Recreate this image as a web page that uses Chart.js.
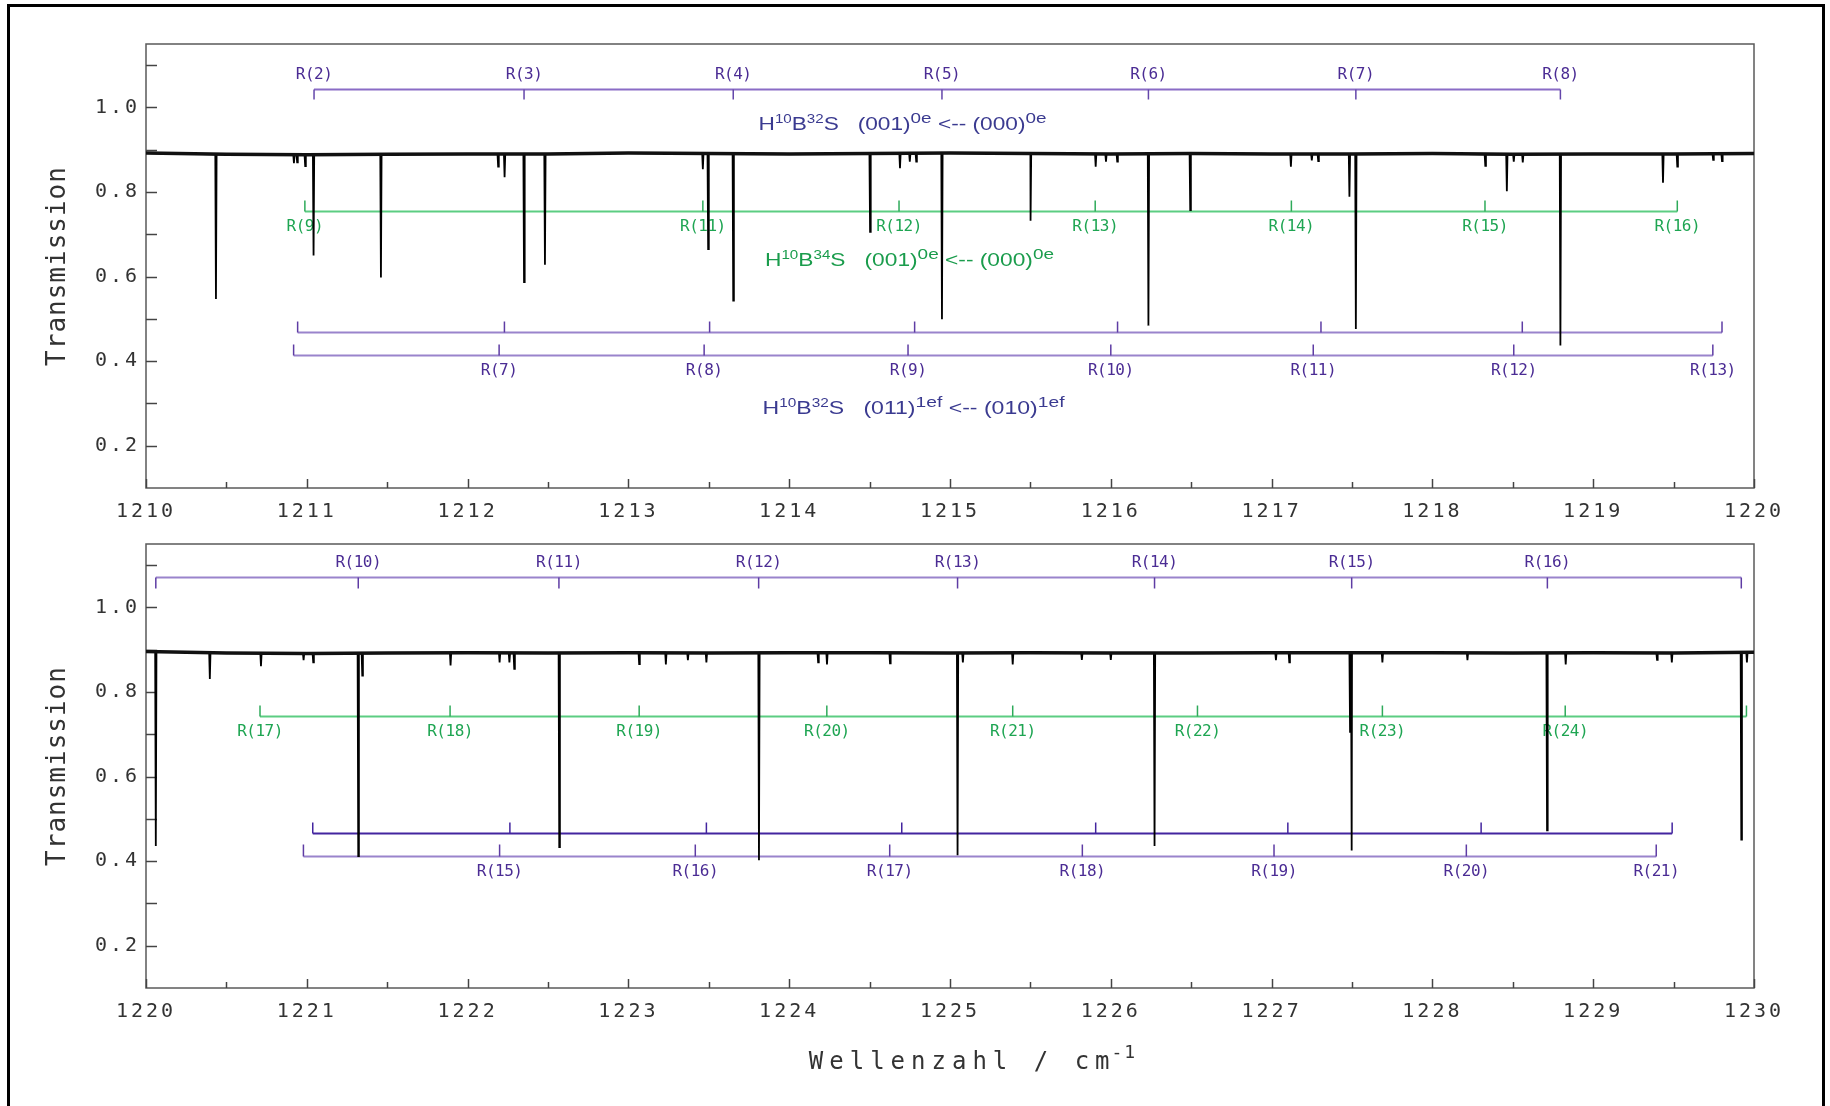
<!DOCTYPE html>
<html>
<head>
<meta charset="utf-8">
<script src="https://cdn.jsdelivr.net/npm/chart.js@4.4.0/dist/chart.umd.min.js"></script>
<style>
html, body { margin: 0; padding: 0; background: #fff; }
body { width: 1830px; height: 1106px; position: relative; overflow: hidden; }
#rahmen { position: absolute; left: 7px; top: 4px; width: 1812px; height: 1200px; border: 3px solid #000; }
canvas { position: absolute; left: 0; }
#spek1 { top: 0; }
#spek2 { top: 525px; }
</style>
</head>
<body>
<div id="rahmen"></div>
<canvas id="spek1" width="1830" height="525"></canvas>
<canvas id="spek2" width="1830" height="581"></canvas>
<script>
// ---- Daten: Basislinie (alle 0.5 cm-1) und Absorptionslinien (Position, Minimum) ----
const basisX1 = [1210, 1210.5, 1211, 1211.5, 1212, 1212.5, 1213, 1213.5, 1214, 1214.5, 1215,
                 1215.5, 1216, 1216.5, 1217, 1217.5, 1218, 1218.5, 1219, 1219.5, 1220];
const basisY1 = [0.892, 0.889, 0.888, 0.889, 0.890, 0.890, 0.892, 0.891, 0.890, 0.891, 0.892,
                 0.891, 0.890, 0.891, 0.890, 0.890, 0.891, 0.889, 0.890, 0.890, 0.891];
const linienX1 = [1210.435, 1210.92, 1210.94, 1210.99, 1211.042, 1211.461, 1212.19, 1212.23, 1212.351, 1212.481,
                  1213.463, 1213.496, 1213.652, 1214.503, 1214.689, 1214.75, 1214.79, 1214.95, 1215.501, 1215.906,
                  1215.97, 1216.04, 1216.234, 1216.494, 1217.12, 1217.25, 1217.29, 1217.484, 1217.524, 1218.329,
                  1218.463, 1218.506, 1218.562, 1218.796, 1219.434, 1219.523, 1219.746, 1219.801];
const linienT1 = [0.547, 0.868, 0.870, 0.861, 0.650, 0.598, 0.860, 0.835, 0.587, 0.628,
                  0.854, 0.665, 0.543, 0.706, 0.856, 0.872, 0.872, 0.499, 0.732, 0.860,
                  0.872, 0.872, 0.484, 0.757, 0.860, 0.875, 0.873, 0.789, 0.476, 0.862,
                  0.802, 0.872, 0.870, 0.437, 0.822, 0.860, 0.876, 0.873];

const basisX2 = [1220, 1220.5, 1221, 1221.5, 1222, 1222.5, 1223, 1223.5, 1224, 1224.5, 1225,
                 1225.5, 1226, 1226.5, 1227, 1227.5, 1228, 1228.5, 1229, 1229.5, 1230];
const basisY2 = [0.896, 0.892, 0.891, 0.892, 0.893, 0.892, 0.893, 0.892, 0.893, 0.893, 0.892,
                 0.893, 0.892, 0.892, 0.893, 0.893, 0.893, 0.892, 0.893, 0.892, 0.894];
const linienX2 = [1220.061, 1220.397, 1220.715, 1220.98, 1221.04, 1221.32, 1221.345, 1221.894, 1222.199, 1222.26,
                  1222.29, 1222.57, 1223.067, 1223.233, 1223.37, 1223.485, 1223.812, 1224.18, 1224.235, 1224.627,
                  1225.047, 1225.08, 1225.39, 1225.82, 1226.0, 1226.272, 1227.027, 1227.11, 1227.488, 1227.498,
                  1227.689, 1228.218, 1228.713, 1228.829, 1229.397, 1229.489, 1229.921, 1229.956];
const linienT2 = [0.436, 0.831, 0.861, 0.875, 0.870, 0.412, 0.839, 0.863, 0.870, 0.870,
                  0.855, 0.433, 0.866, 0.865, 0.875, 0.870, 0.402, 0.870, 0.865, 0.868,
                  0.414, 0.870, 0.865, 0.876, 0.876, 0.436, 0.875, 0.870, 0.706, 0.425,
                  0.870, 0.875, 0.473, 0.865, 0.876, 0.870, 0.451, 0.870];

// ---- Zuordnungen (R-Zweige) ----
const bandA1X = [1211.045, 1212.351, 1213.652, 1214.950, 1216.234, 1217.524, 1218.796];
const bandA1R = ['R(2)', 'R(3)', 'R(4)', 'R(5)', 'R(6)', 'R(7)', 'R(8)'];
const band34_1X = [1210.988, 1213.463, 1214.683, 1215.903, 1217.123, 1218.327, 1219.523];
const band34_1R = ['R(9)', 'R(11)', 'R(12)', 'R(13)', 'R(14)', 'R(15)', 'R(16)'];
const bandE1X = [1210.943, 1212.229, 1213.505, 1214.780, 1216.042, 1217.307, 1218.559, 1219.801];
const bandF1X = [1210.918, 1212.196, 1213.471, 1214.739, 1216.000, 1217.259, 1218.506, 1219.744];
const bandF1R = ['', 'R(7)', 'R(8)', 'R(9)', 'R(10)', 'R(11)', 'R(12)', 'R(13)'];

const bandA2X = [1220.061, 1221.320, 1222.568, 1223.810, 1225.047, 1226.272, 1227.498, 1228.715, 1229.921];
const bandA2R = ['', 'R(10)', 'R(11)', 'R(12)', 'R(13)', 'R(14)', 'R(15)', 'R(16)', ''];
const band34_2X = [1220.709, 1221.891, 1223.067, 1224.234, 1225.390, 1226.539, 1227.689, 1228.826, 1229.953];
const band34_2R = ['R(17)', 'R(18)', 'R(19)', 'R(20)', 'R(21)', 'R(22)', 'R(23)', 'R(24)', ''];
const bandE2X = [1221.037, 1222.263, 1223.485, 1224.700, 1225.906, 1227.101, 1228.303, 1229.491];
const bandF2X = [1220.979, 1222.199, 1223.416, 1224.625, 1225.823, 1227.015, 1228.211, 1229.392];
const bandF2R = ['', 'R(15)', 'R(16)', 'R(17)', 'R(18)', 'R(19)', 'R(20)', 'R(21)'];

// Achsen
const yLabels = [0.2, 0.4, 0.6, 0.8, 1.0];
const yTeil = [0.2, 0.3, 0.4, 0.5, 0.6, 0.7, 0.8, 0.9, 1.0, 1.1];
const xLabels1 = [1210, 1211, 1212, 1213, 1214, 1215, 1216, 1217, 1218, 1219, 1220];
const xLabels2 = [1220, 1221, 1222, 1223, 1224, 1225, 1226, 1227, 1228, 1229, 1230];

const lila = { linie: '#8a6cc6', strich: '#6446aa', schrift: '#4b2c94' };
const gruen = { linie: '#5ccd82', strich: '#2eaa5a', schrift: '#1ea552' };
const blass = { linie: '#9a84cc', strich: '#5e3ca4', schrift: '#4b2c94' };
const dunkel = { linie: '#43259f', strich: '#43259f', schrift: '#4b2c94' };

// Spektrum aus Basislinie + Linien zusammensetzen
function spektrum(bx, by, lx, lt) {
    let pts = bx.map((x, i) => ({ x: x, y: by[i] }));
    lx.forEach((x, i) => {
        // Basiswert des naechsten Stuetzpunkts
        let j = 0;
        for (let k = 1; k < bx.length; k++) if (Math.abs(bx[k] - x) < Math.abs(bx[j] - x)) j = k;
        pts.push({ x: x - 0.004, y: by[j] }, { x: x, y: lt[i] }, { x: x + 0.004, y: by[j] });
    });
    return pts.sort((a, b) => a.x - b.x);
}

const einstellungen = {
    spek1: {
        klammern: [
            { pos: bandA1X, lab: bandA1R, y: 1.0425, len: 10, off: -15, f: lila },
            { pos: band34_1X, lab: band34_1R, y: 0.7558, len: -11, off: 15, f: gruen },
            { pos: bandE1X, lab: [], y: 0.4678, len: -11, off: 0, f: blass },
            { pos: bandF1X, lab: bandF1R, y: 0.4151, len: -11, off: 15, f: blass }
        ],
        texte: [
            { x: 758.5, y: 129.5, w: 288, farbe: '#3a3a90',
              teile: [['H', 0], ['10', 1], ['B', 0], ['32', 1], ['S   (001)', 0], ['0e', 2], [' <-- (000)', 0], ['0e', 2]] },
            { x: 765, y: 265.5, w: 289, farbe: '#1a9c4c',
              teile: [['H', 0], ['10', 1], ['B', 0], ['34', 1], ['S   (001)', 0], ['0e', 2], [' <-- (000)', 0], ['0e', 2]] },
            { x: 762.5, y: 413.5, w: 302, farbe: '#3a3a90',
              teile: [['H', 0], ['10', 1], ['B', 0], ['32', 1], ['S   (011)', 0], ['1ef', 2], [' <-- (010)', 0], ['1ef', 2]] }
        ],
        xTitel: false
    },
    spek2: {
        klammern: [
            { pos: bandA2X, lab: bandA2R, y: 1.0717, len: 11, off: -15, f: blass },
            { pos: band34_2X, lab: band34_2R, y: 0.7434, len: -11, off: 15.5, f: gruen },
            { pos: bandE2X, lab: [], y: 0.4661, len: -11, off: 0, f: dunkel },
            { pos: bandF2X, lab: bandF2R, y: 0.4130, len: -12, off: 15, f: blass }
        ],
        texte: [],
        xTitel: true
    }
};

function reichText(ctx, t) {
    const fonts = ['18px "Liberation Sans"', '12px "Liberation Sans"', '15px "Liberation Sans"'];
    const hoch = [0, 7, 7];
    let w = 0;
    t.teile.forEach(s => { ctx.font = fonts[s[1]]; w += ctx.measureText(s[0]).width; });
    ctx.save();
    ctx.translate(t.x, t.y);
    ctx.scale(t.w / w, 1);
    ctx.fillStyle = t.farbe;
    ctx.textAlign = 'left';
    ctx.textBaseline = 'alphabetic';
    let cx = 0;
    t.teile.forEach(s => {
        ctx.font = fonts[s[1]];
        ctx.fillText(s[0], cx, -hoch[s[1]]);
        cx += ctx.measureText(s[0]).width;
    });
    ctx.restore();
}

const deko = {
    id: 'deko',
    beforeDraw(chart) {
        chart.ctx.letterSpacing = '3px';
    },
    beforeDatasetsDraw(chart) {
        const ctx = chart.ctx, a = chart.chartArea, x = chart.scales.x, y = chart.scales.y;
        const e = einstellungen[chart.canvas.id];
        ctx.save();
        ctx.letterSpacing = '0px';
        // Kasten
        ctx.strokeStyle = '#5a5a5a';
        ctx.lineWidth = 1.5;
        ctx.strokeRect(a.left, a.top, a.right - a.left, a.bottom - a.top);
        // Teilstriche
        ctx.strokeStyle = '#444';
        ctx.lineWidth = 1.5;
        yTeil.forEach(v => {
            const p = Math.round(y.getPixelForValue(v)) + 0.5;
            ctx.beginPath(); ctx.moveTo(a.left, p); ctx.lineTo(a.left + 11, p); ctx.stroke();
        });
        for (let v = x.min; v <= x.max; v += 0.5) {
            const p = Math.round(x.getPixelForValue(v)) + 0.5;
            const l = Number.isInteger(v) ? 9 : 6;
            ctx.beginPath(); ctx.moveTo(p, a.bottom); ctx.lineTo(p, a.bottom - l); ctx.stroke();
        }
        // Klammern der Zuordnungen
        e.klammern.forEach(k => {
            const py = Math.round(y.getPixelForValue(k.y)) + 0.5;
            const px = k.pos.map(v => x.getPixelForValue(v));
            ctx.strokeStyle = k.f.linie;
            ctx.lineWidth = 2;
            ctx.beginPath(); ctx.moveTo(px[0], py); ctx.lineTo(px[px.length - 1], py); ctx.stroke();
            ctx.strokeStyle = k.f.strich;
            ctx.lineWidth = 1.5;
            px.forEach(p => { ctx.beginPath(); ctx.moveTo(p, py); ctx.lineTo(p, py + k.len); ctx.stroke(); });
            ctx.fillStyle = k.f.schrift;
            ctx.font = '16px "DejaVu Sans Mono"';
            ctx.letterSpacing = '-0.5px';
            ctx.textAlign = 'center';
            ctx.textBaseline = 'middle';
            k.lab.forEach((t, i) => { if (t) ctx.fillText(t, px[i], py + k.off); });
            ctx.letterSpacing = '0px';
        });
        e.texte.forEach(t => reichText(ctx, t));
        ctx.restore();
    },
    afterDraw(chart) {
        const ctx = chart.ctx, a = chart.chartArea;
        const e = einstellungen[chart.canvas.id];
        ctx.save();
        ctx.fillStyle = '#333';
        ctx.letterSpacing = '1px';
        ctx.font = '26px "DejaVu Sans Mono"';
        ctx.textAlign = 'center';
        ctx.textBaseline = 'middle';
        ctx.translate(58, (a.top + a.bottom) / 2);
        ctx.rotate(-Math.PI / 2);
        ctx.fillText('Transmission', 0, 0);
        ctx.restore();
        if (e.xTitel) {
            ctx.save();
            ctx.fillStyle = '#333';
            ctx.textBaseline = 'alphabetic';
            ctx.textAlign = 'left';
            ctx.letterSpacing = '6px';
            ctx.font = '24px "DejaVu Sans Mono"';
            const haupt = 'Wellenzahl / cm';
            const w1 = ctx.measureText(haupt).width;
            ctx.font = '18px "DejaVu Sans Mono"';
            ctx.letterSpacing = '2px';
            const w2 = ctx.measureText('-1').width;
            const x0 = 975 - (w1 + w2) / 2;
            ctx.font = '24px "DejaVu Sans Mono"';
            ctx.letterSpacing = '6px';
            ctx.fillText(haupt, x0, 544);
            ctx.font = '18px "DejaVu Sans Mono"';
            ctx.letterSpacing = '2px';
            ctx.fillText('-1', x0 + w1 - 4, 533);
            ctx.restore();
        }
        ctx.letterSpacing = '0px';
    }
};

function zeichne(id, bx, by, lx, lt, xMin, xMax, xLabels, padTop, xHoehe) {
    new Chart(document.getElementById(id), {
        type: 'line',
        data: {
            datasets: [{
                // Rauschband der Basislinie
                data: bx.map((x, i) => ({ x: x, y: by[i] })),
                borderColor: '#111',
                borderWidth: 3.5,
                pointRadius: 0,
                tension: 0,
                fill: false
            }, {
                data: spektrum(bx, by, lx, lt),
                borderColor: '#000',
                borderWidth: 1.8,
                pointRadius: 0,
                tension: 0,
                fill: false
            }]
        },
        options: {
            responsive: false,
            animation: false,
            devicePixelRatio: 1,
            parsing: false,
            layout: { padding: { left: 0, top: padTop, right: 76, bottom: 0 } },
            plugins: { legend: { display: false }, tooltip: { enabled: false } },
            scales: {
                x: {
                    type: 'linear', min: xMin, max: xMax,
                    grid: { display: false, drawTicks: false },
                    border: { display: false },
                    ticks: {
                        font: { family: 'DejaVu Sans Mono', size: 20 },
                        color: '#333', padding: 12, maxRotation: 0, autoSkip: false,
                        callback: v => String(v)
                    },
                    afterBuildTicks: s => { s.ticks = xLabels.map(v => ({ value: v })); },
                    afterFit: s => { s.height = xHoehe; }
                },
                y: {
                    type: 'linear', min: 0.1, max: 1.15,
                    grid: { display: false, drawTicks: false },
                    border: { display: false },
                    ticks: {
                        font: { family: 'DejaVu Sans Mono', size: 20 },
                        color: '#333', padding: 6,
                        callback: v => v.toFixed(1)
                    },
                    afterBuildTicks: s => { s.ticks = yLabels.map(v => ({ value: v })); },
                    afterFit: s => { s.width = 146; }
                }
            }
        },
        plugins: [deko]
    });
}

zeichne('spek1', basisX1, basisY1, linienX1, linienT1, 1210, 1220, xLabels1, 44, 37);
zeichne('spek2', basisX2, basisY2, linienX2, linienT2, 1220, 1230, xLabels2, 19, 118);
</script>
</body>
</html>
